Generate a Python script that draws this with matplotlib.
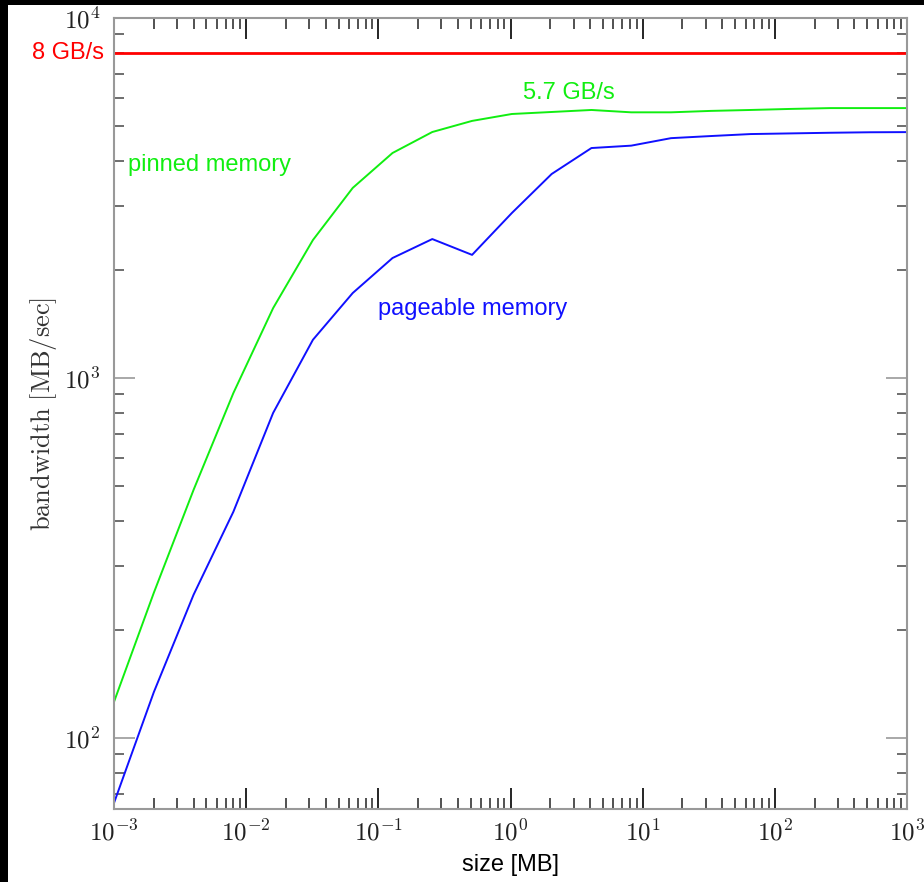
import numpy as np
import matplotlib
matplotlib.use('Agg')
import matplotlib.pyplot as plt
from matplotlib.patches import Rectangle
from matplotlib.ticker import LogLocator, NullFormatter, FuncFormatter

plt.rcParams['mathtext.fontset'] = 'cm'

# transfer sizes (MB)
size_mb = [0.001, 0.002, 0.004, 0.008, 0.016, 0.032, 0.064, 0.128, 0.256, 0.512,
           1.024, 2.048, 4.096, 8.192, 16.38, 32.77, 65.54, 131.1, 262.1, 524.3, 1048.6]

# bandwidth [MB/sec]
pinned = [126, 253, 489, 908, 1564, 2417, 3373, 4217, 4823, 5178,
          5412, 5482, 5553, 5470, 5470, 5520, 5553, 5590, 5620, 5620, 5620]
pageable = [66, 134, 250, 425, 800, 1277, 1722, 2154, 2432, 2198,
            2873, 3687, 4353, 4420, 4637, 4700, 4760, 4780, 4800, 4815, 4820]
peak = 8000

green = '#11ee11'
blue = '#1010ff'
red = '#ff0000'
grey = '#999999'

fig = plt.figure(figsize=(9.24, 8.82), dpi=100)
fig.patch.set_facecolor('black')
fig.patches.append(Rectangle((8/924, 0), 1, (882-5)/882, transform=fig.transFigure,
                             facecolor='white', edgecolor='none', zorder=-10))
ax = fig.add_axes([114/924, 1-809/882, (907-114)/924, (809-18)/882])

ax.plot(size_mb, pinned, color=green, lw=1.4)
ax.plot(size_mb, pageable, color=blue, lw=1.4)
ax.axhline(peak, color=red, lw=2)

ax.set_xscale('log')
ax.set_yscale('log')
ax.set_xlim(1e-3, 1e3)
ax.set_ylim(63.5, 1e4)

for s in ax.spines.values():
    s.set_color(grey)
    s.set_linewidth(1.5)

pow10 = FuncFormatter(lambda v, p: r'$10^{%d}$' % round(np.log10(v)))
ax.xaxis.set_major_locator(LogLocator(base=10, numticks=10))
ax.xaxis.set_minor_locator(LogLocator(base=10, subs=np.arange(2, 10), numticks=20))
ax.yaxis.set_major_locator(LogLocator(base=10, numticks=10))
ax.yaxis.set_minor_locator(LogLocator(base=10, subs=np.arange(2, 10), numticks=20))
ax.xaxis.set_major_formatter(pow10)
ax.yaxis.set_major_formatter(pow10)
ax.xaxis.set_minor_formatter(NullFormatter())
ax.yaxis.set_minor_formatter(NullFormatter())

ax.tick_params(which='both', direction='in', top=True, right=True, labelsize=18,
               labelcolor='#222222')
ax.tick_params(axis='x', which='major', length=15, width=1.2, color='black', pad=8)
ax.tick_params(axis='x', which='minor', length=8, width=1.2, color='#333333')
ax.tick_params(axis='y', which='major', length=15, width=1.2, color=grey, pad=10)
ax.tick_params(axis='y', which='minor', length=7, width=1.2, color='#555555')

ax.set_xlabel('size [MB]', fontsize=17, family='Liberation Sans', labelpad=6)
ax.set_ylabel(r'$\mathrm{bandwidth\ [MB/sec]}$', fontsize=19, labelpad=3, color='#333333')

sans = 'Liberation Sans'
ax.text(-0.012, peak, '8 GB/s', color=red, fontsize=17, family=sans,
        transform=ax.get_yaxis_transform(), ha='right', va='center')
ax.text(0.00128, 3906, 'pinned memory', color=green, fontsize=17, family=sans,
        ha='left', va='center')
ax.text(0.1, 1550, 'pageable memory', color=blue, fontsize=17, family=sans,
        ha='left', va='center')
ax.text(1.24, 6190, '5.7 GB/s', color=green, fontsize=17, family=sans,
        ha='left', va='center')

fig.savefig('out.png', dpi=100, facecolor=fig.get_facecolor())
